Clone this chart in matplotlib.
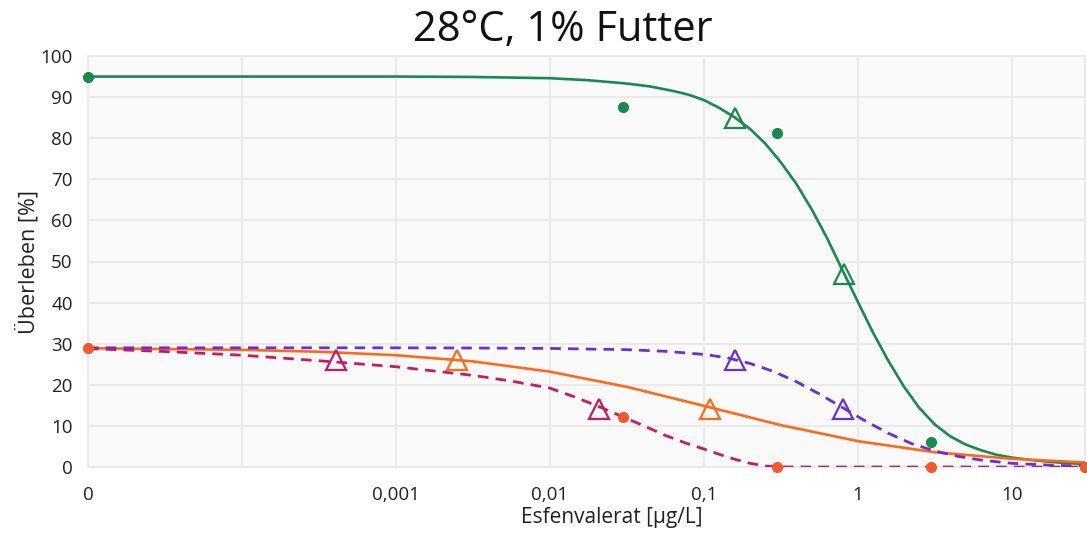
import matplotlib
matplotlib.use("Agg")
import numpy as np
import matplotlib.pyplot as plt
from matplotlib.ticker import FixedLocator, FixedFormatter, NullLocator

plt.rcParams['font.family'] = ['Open Sans', 'DejaVu Sans']

# fitted curves (log10 of concentration in ug/L, survival in %)
green_fit_logc = [-5, -3, -2.5, -2, -1.75, -1.5, -1.35, -1.2, -1.1, -1.0, -0.9,
                  -0.8, -0.7, -0.6, -0.5, -0.4, -0.3, -0.2, -0.1, 0.0, 0.1, 0.2,
                  0.3, 0.4, 0.5, 0.6, 0.7, 0.8, 0.9, 1.0, 1.15, 1.3, 1.48]
green_fit_surv = [95.0, 95.0, 94.9, 94.6, 94.1, 93.3, 92.6, 91.5, 90.6, 89.3, 87.4,
                  85.1, 82.3, 78.7, 74.2, 69.0, 62.8, 55.8, 48.0, 40.3, 32.7, 25.8,
                  19.6, 14.4, 10.4, 7.5, 5.5, 4.1, 3.0, 2.3, 1.6, 1.1, 0.7]

orange_fit_logc = [-5, -4.5, -4, -3.5, -3, -2.5, -2, -1.5, -1, -0.5, 0, 0.5,
                   1, 1.48]
orange_fit_surv = [28.9, 28.7, 28.5, 28.05, 27.2, 25.7, 23.2, 19.5, 14.9,
                   10.2, 6.3, 3.6, 2.0, 1.1]

purple_fit_logc = [-5, -4, -3, -2.5, -2, -1.5, -1.25, -1.0, -0.85, -0.7, -0.55,
                   -0.4, -0.25, -0.1, 0.05, 0.2, 0.35, 0.5, 0.65, 0.8, 1.0,
                   1.25, 1.48]
purple_fit_surv = [29.0, 29.0, 29.0, 28.95, 28.85, 28.55, 28.15, 27.4, 26.6,
                   25.2, 23.3, 20.8, 17.8, 14.5, 11.2, 8.2, 5.7, 3.9, 2.6, 1.7,
                   0.9, 0.45, 0.2]

magenta_fit_logc = [-5, -4.5, -4, -3.5, -3, -2.5, -2.25, -2, -1.85, -1.7,
                    -1.55, -1.4, -1.25, -1.1, -1.0, -0.9, -0.8, -0.7, -0.6,
                    -0.5, 1.48]
magenta_fit_surv = [28.8, 28.1, 27.2, 25.85, 24.4, 22.3, 20.9, 19.2, 17.2, 15.0,
                    12.6, 10.2, 7.7, 5.6, 4.4, 3.1, 1.9, 0.9, 0.25, 0.0, 0.0]

# observed survival (control "0" drawn at 1e-5)
dot_conc = [1e-5, 0.03, 0.3, 3, 30]
green_dot_surv = [95, 87.5, 81.3, 6, 0]
orange_dot_surv = [29, 12.2, 0, 0, 0]

# EC10 / EC50 markers
green_tri_conc = [0.16, 0.82]
purple_tri_conc = [0.16, 0.8]
orange_tri_conc = [0.0025, 0.11]
magenta_tri_conc = [0.00041, 0.021]
green_tri_surv = [85, 47]
low_tri_surv = [26, 14]

xtick_vals = [1e-5, 1e-4, 1e-3, 1e-2, 1e-1, 1, 10]
xtick_labels = ['0', '', '0,001', '0,01', '0,1', '1', '10']
ytick_vals = list(range(0, 101, 10))

green = '#178a4c'
orange = '#ff6a1a'
dot_orange = '#f5582a'
purple = '#6a2ed4'
magenta = '#c71b5e'

fig = plt.figure(figsize=(10.87, 5.35), dpi=100)
ax = fig.add_axes([88 / 1087, 1 - 467 / 535, 997 / 1087, 411 / 535])
ax.set_facecolor('#fafafa')

ax.set_xscale('log')
ax.set_xlim(1e-5, 30)
ax.set_ylim(0, 100)

ax.xaxis.set_major_locator(FixedLocator(xtick_vals))
ax.xaxis.set_major_formatter(FixedFormatter(xtick_labels))
ax.xaxis.set_minor_locator(NullLocator())
ax.set_yticks(ytick_vals)
ax.grid(True, color='#e9e9e9', lw=1.3)
ax.set_axisbelow(True)
for s in ax.spines.values():
    s.set_color('#e9e9e9')
    s.set_linewidth(1.3)
ax.tick_params(length=0, labelsize=13.5, colors='#222222')
ax.tick_params(axis='x', pad=14)
ax.tick_params(axis='y', pad=11)

dash = (0, (3.8, 2.6))
ax.plot(10 ** np.array(green_fit_logc), green_fit_surv, color=green, lw=1.9, zorder=3)
ax.plot(10 ** np.array(orange_fit_logc), orange_fit_surv, color=orange, lw=1.9, zorder=3)
ax.plot(10 ** np.array(purple_fit_logc), purple_fit_surv, color=purple, lw=2.0,
        ls=dash, zorder=3)
ax.plot(10 ** np.array(magenta_fit_logc), magenta_fit_surv, color=magenta, lw=2.0,
        ls=dash, zorder=3)

tri = dict(marker='^', ms=14, mfc='none', mew=1.6, ls='none', zorder=4)
ax.plot(green_tri_conc, green_tri_surv, mec=green, **tri)
ax.plot(purple_tri_conc, low_tri_surv, mec=purple, **tri)
ax.plot(orange_tri_conc, low_tri_surv, mec=orange, **tri)
ax.plot(magenta_tri_conc, low_tri_surv, mec=magenta, **tri)

ax.plot(dot_conc, green_dot_surv, 'o', color=green, ms=7, ls='none',
        zorder=5, clip_on=False)
ax.plot(dot_conc, orange_dot_surv, 'o', color=dot_orange, ms=7, ls='none',
        zorder=6, clip_on=False)

ax.set_xlabel('Esfenvalerat [µg/L]', fontsize=15, color='#222222', va='center')
ax.xaxis.set_label_coords((612 - 88) / 997, -(517 - 467) / 411)
ax.set_ylabel('Überleben [%]', fontsize=15.5, color='#222222', labelpad=1)
fig.text(563 / 1087, 1 - 30 / 535, '28°C, 1% Futter', fontsize=30,
         ha='center', va='center', color='#111111')

fig.savefig('out.png', dpi=100)
